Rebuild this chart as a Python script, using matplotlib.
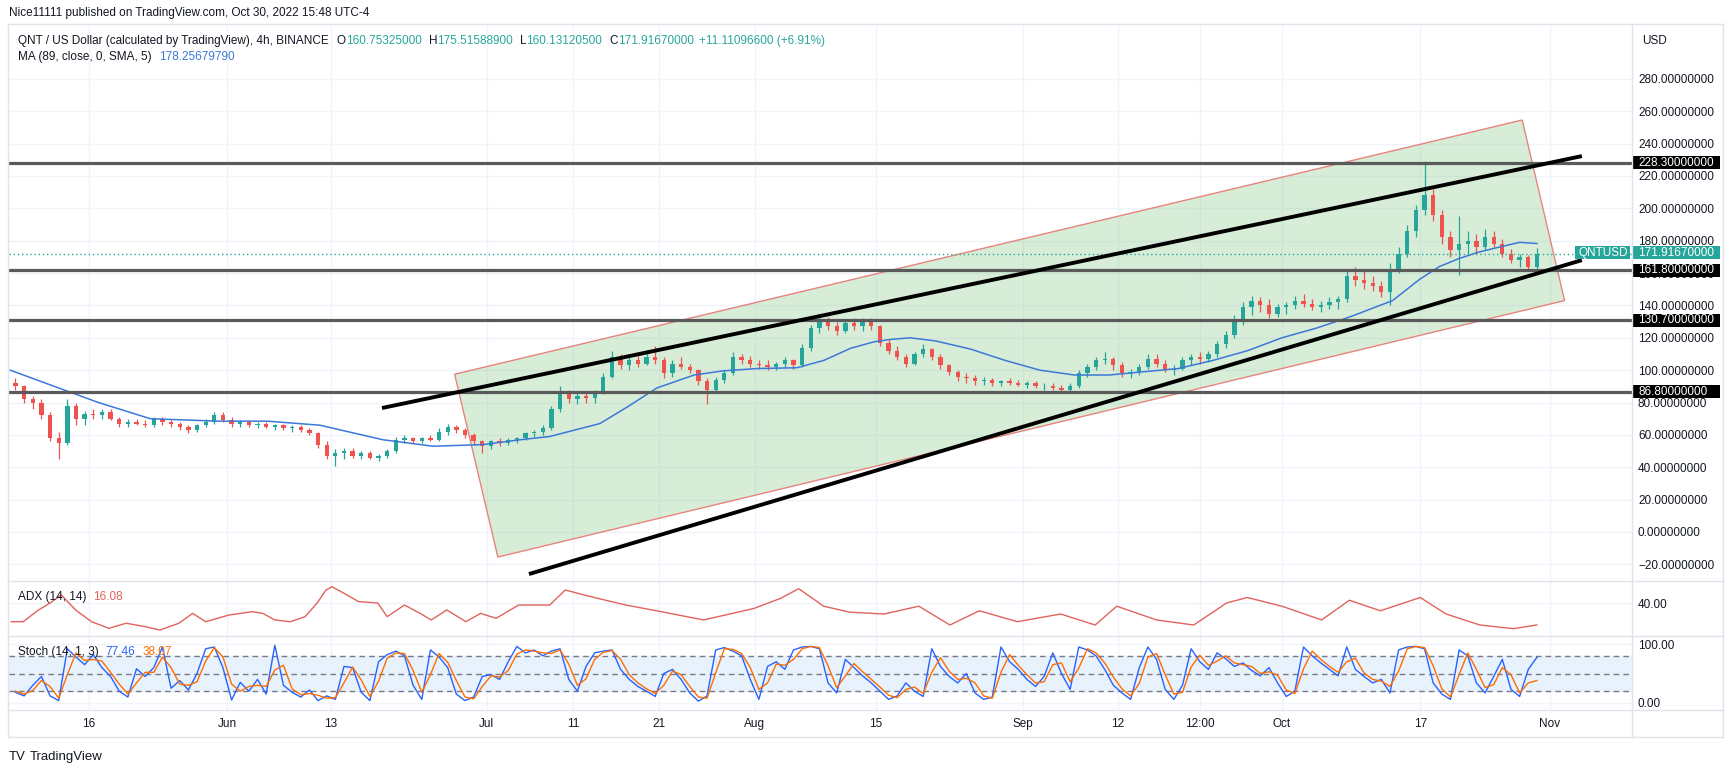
import numpy as np
import matplotlib.pyplot as plt
from matplotlib.patches import Polygon, Rectangle
from matplotlib.lines import Line2D
import matplotlib.transforms as mtransforms

plt.rcParams['font.family'] = ['Liberation Sans', 'DejaVu Sans']

W, H = 1735, 773

# one candle per day, day 0 = 16 May 2022 (first candle 7 May)
first_day = -9
opens = [92, 90, 82, 80, 72, 58, 55, 78, 70, 73,
         72, 74, 70, 67, 68, 67, 66, 70, 68, 67,
         65, 63, 66, 68, 72, 69, 67, 68, 66, 67,
         65, 66, 64, 65, 63, 61, 54, 47, 49, 50,
         47, 49, 46, 47, 50, 57, 58, 56, 58, 57,
         62, 65, 63, 60, 56, 53, 56, 55, 57, 58,
         61, 62, 64, 76, 85, 82, 84, 83, 86, 96,
         108, 103, 106, 104, 108, 106, 98, 104, 102, 100,
         93, 88, 94, 98, 108, 106, 104, 103, 102, 104,
         106, 103, 114, 126, 130, 127, 124, 129, 127, 130,
         127, 117, 112, 108, 104, 110, 113, 108, 103, 99,
         96, 95, 93, 94, 92, 93, 92, 91, 92, 90,
         90, 89, 88, 90, 98, 102, 106, 107, 103, 98,
         99, 102, 107, 104, 100, 101, 106, 108, 107, 110,
         116, 122, 131, 139, 143, 140, 135, 139, 140, 143,
         141, 139, 140, 142, 144, 158, 156, 154, 152, 148,
         162, 172, 186, 199, 208, 196, 182, 174, 178, 180,
         176, 182, 178, 172, 168, 170, 164]
highs = [95, 91, 84, 82, 74, 62, 82, 80, 75, 76,
         76, 76, 71, 70, 70, 69, 71, 71, 69, 68,
         66, 67, 70, 74, 74, 71, 69, 69, 68, 68,
         67, 67, 66, 66, 64, 62, 56, 51, 52, 52,
         50, 50, 48, 51, 59, 60, 59, 59, 60, 64,
         67, 66, 64, 61, 57, 57, 58, 58, 59, 62,
         63, 66, 78, 90, 88, 86, 87, 88, 98, 112,
         110, 109, 110, 112, 115, 108, 106, 108, 104, 101,
         95, 96, 100, 111, 110, 109, 106, 106, 105, 108,
         107, 116, 128, 134, 133, 130, 131, 132, 132, 132,
         128, 119, 115, 110, 111, 116, 114, 110, 104, 100,
         98, 97, 96, 95, 94, 95, 94, 93, 93, 92,
         92, 91, 92, 100, 104, 108, 111, 108, 105, 101,
         104, 110, 110, 106, 103, 108, 110, 111, 112, 118,
         124, 134, 142, 146, 145, 144, 141, 142, 146, 147,
         144, 143, 145, 146, 162, 164, 162, 158, 155, 166,
         176, 190, 202, 229, 212, 199, 186, 195, 186, 184,
         187, 186, 181, 175, 172, 171, 175.52]
lows = [88, 80, 76, 70, 56, 45, 54, 66, 66, 70,
        70, 69, 65, 65, 66, 65, 65, 66, 65, 63,
        61, 62, 65, 67, 68, 65, 65, 65, 64, 64,
        63, 63, 62, 62, 60, 52, 45, 41, 45, 46,
        45, 45, 44, 46, 49, 55, 55, 55, 56, 56,
        60, 61, 58, 54, 49, 51, 53, 54, 55, 57,
        59, 60, 63, 74, 80, 79, 80, 80, 85, 95,
        101, 100, 102, 103, 104, 95, 96, 101, 98, 91,
        79, 86, 92, 97, 104, 102, 101, 100, 100, 102,
        101, 102, 112, 123, 125, 122, 123, 125, 124, 125,
        115, 110, 106, 102, 103, 108, 106, 101, 97, 93,
        92, 91, 91, 90, 90, 91, 90, 89, 89, 88,
        88, 87, 86, 89, 96, 100, 104, 100, 96, 95,
        97, 101, 102, 99, 97, 100, 103, 104, 105, 108,
        114, 120, 128, 134, 136, 132, 133, 135, 138, 139,
        137, 136, 138, 138, 142, 152, 150, 149, 145, 140,
        160, 170, 182, 196, 192, 178, 170, 159, 172, 172,
        174, 176, 170, 166, 164, 162, 160.13]
closes = [90, 82, 80, 72, 58, 55, 78, 70, 73, 72,
          74, 70, 67, 68, 67, 66, 70, 68, 67, 65,
          63, 66, 68, 72, 69, 67, 68, 66, 67, 65,
          66, 64, 65, 63, 61, 54, 47, 49, 50, 47,
          49, 46, 47, 50, 57, 58, 56, 58, 57, 62,
          65, 63, 60, 56, 53, 56, 55, 57, 58, 61,
          62, 64, 76, 85, 82, 84, 83, 86, 96, 108,
          103, 106, 104, 108, 106, 98, 104, 102, 100, 93,
          88, 94, 98, 108, 106, 104, 103, 102, 104, 106,
          103, 114, 126, 130, 127, 124, 129, 127, 130, 127,
          117, 112, 108, 104, 110, 113, 108, 103, 99, 96,
          95, 93, 94, 92, 93, 92, 91, 92, 90, 90,
          89, 88, 90, 98, 102, 106, 107, 103, 98, 99,
          102, 107, 104, 100, 101, 106, 108, 107, 110, 116,
          122, 131, 139, 143, 140, 135, 139, 140, 143, 141,
          139, 140, 142, 144, 158, 156, 154, 152, 148, 162,
          172, 186, 199, 208, 196, 182, 174, 178, 180, 176,
          182, 178, 172, 168, 170, 164, 171.92]

# MA (89)
ma_days = [-9.1, -3, 1.1, 7.1, 14.8, 20.6, 26.7, 34, 39.8, 45.6, 49.9, 53.3,
           59.1, 62.2, 65.7, 70, 73.4, 77.3, 81.9, 85, 88.1, 90.8, 92.7, 95,
           98, 102, 106, 110, 114, 118, 122, 126, 130, 134, 138, 142, 145.9,
           150.8, 153.9, 156.2, 158.5, 160.8, 163.1, 165.5, 167.5]
ma_vals = [100, 88, 80, 70, 68.5, 68.5, 66, 57, 53, 54, 57, 59,
           67, 77, 89, 97, 99.6, 101, 101.5, 106, 113.5, 117.5, 119, 120,
           118, 113, 106, 100, 97, 97, 99, 101, 106, 112, 120, 126, 133,
           143, 156, 164, 169, 173, 176, 179, 178.26]

adx_days = [-9, -7.6, -5.9, -4.5, -3.2, -1.5, 0.3, 2.3, 4.3, 6.5, 8.2, 10.4, 12,
            13.5, 16.2, 18.9, 20.1, 21.5, 23.3, 25, 26.4, 27.4, 28.1, 29.5,
            31.2, 33.4, 34.5, 36.5, 38.3, 39.6, 41.4, 43.6, 45.3, 47.1, 49.7,
            53.3, 55.1, 57.3, 58.9, 62, 66.5, 71.1, 76.9, 80, 82.1, 85, 88, 92,
            96, 99.6, 103, 107.4, 112.4, 116.4, 118.9, 123.5, 127.8, 131.6,
            134, 138, 142.6, 145.8, 149.4, 154, 157, 160.9, 164.8, 167.5]
adx_vals = [19.6, 19.6, 32, 40, 48.7, 32, 19.6, 12.4, 17.9, 14.2, 10.5, 17.9, 28.7,
            19.6, 26.9, 30.5, 28.7, 21.5, 19.6, 25.1, 40, 54, 57.8, 50.6,
            41.5, 40, 25.1, 37.8, 28.7, 21.5, 32.4, 19.6, 28.7, 23.3, 37.8,
            37.8, 54.2, 48.7, 45, 38, 30, 21.5, 34, 45, 55.6, 36.5, 30, 28,
            36.5, 16, 31.5, 19.6, 28, 16, 36.5, 21.5, 16, 40,
            46, 36.5, 21.5, 43, 31.5, 46, 28, 16, 12, 16.08]

stoch_k = [18, 12, 30, 45, 12, 4, 92, 78, 65, 82,
           60, 45, 20, 10, 58, 45, 60, 95, 25, 38,
           22, 50, 92, 95, 60, 5, 35, 20, 40, 15,
           98, 30, 18, 10, 22, 4, 12, 6, 62, 60,
           18, 4, 70, 82, 88, 80, 30, 6, 90, 78,
           60, 15, 4, 10, 45, 48, 40, 70, 96, 85,
           90, 80, 88, 92, 40, 20, 62, 85, 88, 90,
           57, 40, 28, 20, 11, 50, 57, 40, 17, 3,
           12, 90, 94, 88, 80, 40, 6, 62, 70, 57,
           90, 95, 96, 92, 34, 17, 74, 60, 46, 34,
           20, 6, 12, 34, 20, 11, 92, 62, 45, 34,
           50, 17, 6, 10, 95, 70, 57, 40, 28, 45,
           85, 50, 23, 95, 90, 80, 57, 30, 17, 6,
           60, 95, 74, 23, 6, 30, 92, 70, 57, 85,
           75, 62, 68, 55, 46, 60, 34, 11, 20, 95,
           80, 68, 57, 46, 95, 57, 45, 34, 40, 17,
           90, 95, 96, 92, 34, 15, 6, 90, 80, 34,
           17, 45, 74, 23, 11, 57, 77.46]
stoch_d = [20, 15, 21, 38, 28, 8, 48, 85, 72, 74,
           71, 52, 32, 15, 34, 52, 52, 78, 60, 32,
           30, 36, 71, 94, 78, 32, 20, 28, 30, 28,
           56, 64, 24, 14, 16, 13, 8, 9, 34, 61,
           39, 11, 37, 76, 85, 84, 55, 18, 48, 84,
           69, 38, 10, 7, 28, 46, 44, 55, 83, 90,
           88, 85, 84, 90, 66, 30, 41, 74, 86, 89,
           74, 48, 34, 24, 16, 30, 54, 48, 28, 10,
           8, 51, 92, 91, 84, 60, 23, 34, 66, 64,
           74, 92, 96, 94, 63, 26, 46, 67, 53, 40,
           27, 13, 9, 23, 27, 16, 52, 77, 54, 40,
           42, 34, 12, 8, 52, 82, 64, 48, 34, 36,
           65, 68, 36, 59, 92, 85, 68, 44, 24, 12,
           33, 78, 84, 48, 15, 18, 61, 81, 64, 71,
           80, 68, 65, 62, 50, 53, 47, 22, 16, 58,
           88, 74, 62, 52, 70, 76, 51, 40, 37, 28,
           54, 92, 96, 94, 63, 24, 10, 48, 85, 57,
           26, 31, 60, 48, 17, 34, 38.07]

levels = [228.3, 161.8, 130.7, 86.8]
last_price = 171.9167
upper_trend = [(33.9, 76.6), (172.7, 232.3)]
lower_trend = [(50.9, -26.0), (172.7, 168.0)]
channel = [(42.3, 97.5), (165.8, 254.6), (170.7, 143.0), (47.3, -15.5)]

tick_days = [0, 16, 28, 46, 56, 66, 77, 91, 108, 119, 128.5, 138, 154, 169]
tick_labels = ['16', 'Jun', '13', 'Jul', '11', '21', 'Aug', '15', 'Sep', '12',
               '12:00', 'Oct', '17', 'Nov']
price_ticks = list(range(-20, 281, 20))

TXT = '#131722'
UP, DOWN = '#26a69a', '#ef5350'
GRID = '#f0f3fa'
LINE = '#e0e3eb'

fig = plt.figure(figsize=(W / 100, H / 100), dpi=100)
fig.patch.set_facecolor('white')

L, R = 9, 1632


def rect(top, bottom):
    return [L / W, 1 - bottom / H, (R - L) / W, (bottom - top) / H]


ax = fig.add_axes(rect(26, 581))
ax_adx = fig.add_axes(rect(581, 636))
ax_st = fig.add_axes(rect(636, 710))

xlim = (-9.25, 178.5)
for a in (ax, ax_adx, ax_st):
    a.set_xlim(*xlim)
    for s in a.spines.values():
        s.set_visible(False)
    a.set_xticks(tick_days)
    a.grid(True, color=GRID, lw=1, zorder=0)
    a.set_axisbelow(True)
    a.yaxis.tick_right()
    a.tick_params(axis='both', length=0, labelsize=8.5, labelcolor=TXT)
    a.tick_params(axis='y', pad=4.3)

ax.set_xticklabels([])
ax_adx.set_xticklabels([])
ax_st.set_xticklabels(tick_labels)
ax_st.tick_params(axis='x', pad=5.5)

# ---- main pane ----
ax.set_ylim(-30.3, 312.7)
ax.set_yticks(price_ticks)
ax.set_yticklabels([f"{v:.8f}".replace('-', '\u2212') for v in price_ticks])

ax.add_patch(Polygon(channel, closed=True, facecolor=(0.30, 0.69, 0.31, 0.22),
                     edgecolor='#e8847e', lw=1, zorder=1))

days = np.arange(first_day, first_day + len(closes))
xc = days + 0.5
o, h, l, c = map(np.array, (opens, highs, lows, closes))
cols = np.where(c >= o, UP, DOWN)
ax.vlines(xc, l, h, colors=cols, lw=0.9, zorder=3)
ax.bar(xc, np.maximum(np.abs(c - o), 0.4), bottom=np.minimum(o, c), width=0.5,
       color=cols, linewidth=0, zorder=3)

ax.plot(ma_days, ma_vals, color='#3c78d8', lw=1.1, zorder=4)
ax.axhline(last_price, color=UP, lw=1, ls=(0, (1, 2)), zorder=4)

for lv in levels:
    ax.axhline(lv, color='#5a5a5a', lw=2.3, zorder=5)

for tl in (upper_trend, lower_trend):
    ax.plot([p[0] for p in tl], [p[1] for p in tl], color='black', lw=2.8,
            solid_capstyle='butt', zorder=6)

# price labels on the axis
bt = mtransforms.blended_transform_factory(ax.transAxes, ax.transData)
px_unit = 555 / (312.7 + 30.3)
box_h = 13 / px_unit
box_w = 88 / (R - L)
for lv in levels:
    ax.add_patch(Rectangle((1.0, lv - box_h / 2), box_w, box_h, transform=bt,
                           facecolor='black', edgecolor='none', clip_on=False, zorder=10))
    ax.text(1.0037, lv, f"{lv:.8f}", transform=bt, color='white', fontsize=8.5,
            ha='left', va='center', clip_on=False, zorder=11)
lp = last_price + 0.5
ax.add_patch(Rectangle((1.0, lp - box_h / 2), box_w, box_h, transform=bt,
                       facecolor=UP, edgecolor='none', clip_on=False, zorder=10))
ax.text(1.0037, lp, '171.91670000', transform=bt, color='white', fontsize=8.5,
        ha='left', va='center', clip_on=False, zorder=11)
ax.add_patch(Rectangle((1.0 - 57 / (R - L), lp - box_h / 2), 55 / (R - L), box_h,
                       transform=bt, facecolor=UP, edgecolor='none', clip_on=False, zorder=10))
ax.text(1.0 - 29 / (R - L), lp, 'QNTUSD', transform=bt, color='white', fontsize=8.5,
        ha='center', va='center', clip_on=False, zorder=11)

# ---- ADX pane ----
ax_adx.set_ylim(4, 64)
ax_adx.set_yticks([40])
ax_adx.set_yticklabels(['40.00'])
ax_adx.plot(adx_days, adx_vals, color='#e0635e', lw=1, zorder=3)

# ---- Stoch pane ----
ax_st.set_ylim(-12, 113.7)
ax_st.set_yticks([0, 100])
ax_st.set_yticklabels(['0.00', '100.00'])
ax_st.axhspan(20, 80, color='#e7f2fc', zorder=1)
for lv in (80, 50, 20):
    ax_st.axhline(lv, color='#787b86', lw=1, ls=(0, (4, 3)), zorder=2)
ax_st.plot(xc, stoch_k, color='#2962ff', lw=1, zorder=3)
ax_st.plot(xc, stoch_d, color='#ff6d00', lw=1, zorder=4)

# ---- frame and separators ----
def fig_line(x0, y0, x1, y1, color=LINE):
    fig.add_artist(Line2D([x0 / W, x1 / W], [1 - y0 / H, 1 - y1 / H],
                          color=color, lw=1, transform=fig.transFigure))


fig_line(8, 24, 1723, 24)
fig_line(8, 737, 1723, 737)
fig_line(8, 24, 8, 737)
fig_line(1723, 24, 1723, 737)
fig_line(R, 24, R, 737)
for yy in (581, 636, 710):
    fig_line(8, yy, 1723, yy)

# ---- texts ----
renderer = fig.canvas.get_renderer()


def px_text(x, y, parts, size=8.5):
    for s, col, gap in parts:
        t = fig.text(x / W, 1 - y / H, s, color=col, fontsize=size,
                     ha='left', va='center')
        x += t.get_window_extent(renderer).width + gap


px_text(9, 13, [("Nice11111 published on TradingView.com, Oct 30, 2022 15:48 UTC-4", TXT, 0)])
px_text(18, 41, [("QNT / US Dollar (calculated by TradingView), 4h, BINANCE", TXT, 8),
                 ("O", TXT, 0), ("160.75325000", UP, 7),
                 ("H", TXT, 0), ("175.51588900", UP, 7),
                 ("L", TXT, 0), ("160.13120500", UP, 7),
                 ("C", TXT, 0), ("171.91670000", UP, 5),
                 ("+11.11096600 (+6.91%)", UP, 0)])
px_text(18, 57, [("MA (89, close, 0, SMA, 5)", TXT, 7), ("178.25679790", '#3c78d8', 0)])
px_text(18, 597, [("ADX (14, 14)", TXT, 7), ("16.08", '#e0635e', 0)])
px_text(18, 652, [("Stoch (14, 1, 3)", TXT, 7), ("77.46", '#2962ff', 7),
                  ("38.07", '#ff6d00', 0)])
px_text(1642, 41, [("USD", TXT, 0)])
px_text(9, 757, [("TV", TXT, 4), ("TradingView", TXT, 0)], size=9.5)

fig.savefig('out.png', dpi=100)
